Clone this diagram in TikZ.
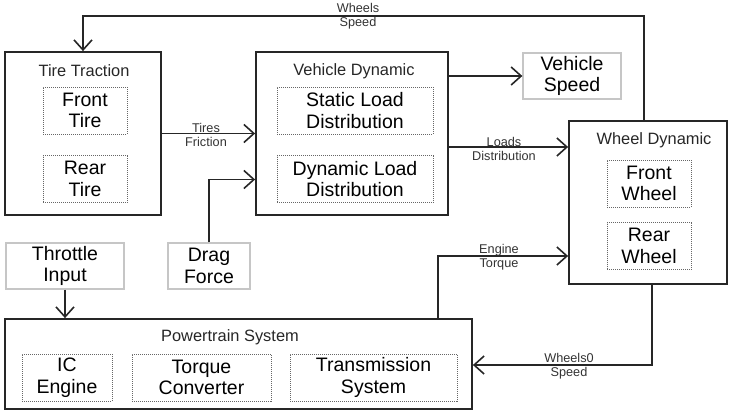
\documentclass[tikz,border=0pt]{standalone}
\usepackage{fontspec}
\setmainfont{Liberation Sans}
\usetikzlibrary{positioning,arrows.meta,calc}

\begin{document}
\begin{tikzpicture}[
  x=1pt, y=-1pt,
  blk/.style={draw=black!85, line width=1.8pt, inner sep=0pt},
  sub/.style={draw=black!60, dash pattern=on 1pt off 1pt, line width=1pt, align=center, inner sep=0pt, font=\fontsize{19.5}{21.5}\selectfont},
  src/.style={draw=gray!45, line width=1.3pt, align=center, inner sep=0pt, font=\fontsize{19.5}{21.5}\selectfont},
  ttl/.style={font=\fontsize{16.4}{19}\selectfont, inner sep=0pt, text=black!85},
  lbl/.style={font=\fontsize{12.7}{14.5}\selectfont, align=center, inner sep=0pt, text=black!80},
  ar/.style={-{Straight Barb[length=10pt,width=18pt]}, line width=1.6pt, black!85},
]
\useasboundingbox (0,0) rectangle (732,413);
% ---- tire traction ----
\node[blk, minimum width=156pt, minimum height=163pt] (tt) at (83,133.5) {};
\node[ttl] (ttt) at (84,71) {Tire Traction};
\node[sub, minimum width=84pt, minimum height=47pt] (ft) at (85,110.5) {Front\\Tire};
\node[sub, minimum width=84pt, minimum height=47pt] (rt) at (85,179) {Rear\\Tire};
% ---- vehicle dynamic ----
\node[blk, minimum width=192pt, minimum height=163pt] (vd) at (352,133.5) {};
\node[ttl] (vdt) at (354,71) {Vehicle Dynamic};
\node[sub, minimum width=156pt, minimum height=47pt] (sld) at (355,110.5) {Static Load\\Distribution};
\node[sub, minimum width=156pt, minimum height=47pt] (dld) at (355,179) {Dynamic Load\\Distribution};
\node[src, minimum width=98pt, minimum height=46pt] (vs) at (572,76) {Vehicle\\Speed};
% ---- wheel dynamic ----
\node[blk, minimum width=158pt, minimum height=163pt] (wd) at (648,202.5) {};
\node[ttl] (wdt) at (654,140) {Wheel Dynamic};
\node[sub, minimum width=84pt, minimum height=47pt] (fw) at (649,183.5) {Front\\Wheel};
\node[sub, minimum width=84pt, minimum height=47pt] (rw) at (649,246) {Rear\\Wheel};
% ---- inputs ----
\node[src, minimum width=118pt, minimum height=46pt] (ti) at (65,266) {Throttle\\Input};
\node[src, minimum width=82pt, minimum height=46pt] (df) at (209,266) {Drag\\Force};
% ---- powertrain ----
\node[blk, minimum width=467pt, minimum height=90pt] (ps) at (238.5,364) {};
\node[ttl] (pst) at (230,337) {Powertrain System};
\node[sub, minimum width=90pt, minimum height=47pt] (ice) at (67,377.5) {IC\\Engine};
\node[sub, minimum width=139pt, minimum height=47pt] (tc) at (201.5,377.5) {Torque\\Converter};
\node[sub, minimum width=167pt, minimum height=47pt] (tsys) at (373.5,377.5) {Transmission\\System};
% arrows
\draw[ar] ([xshift=-4pt]wd.north) |- (83,16) -- (tt.north);
\draw[ar] (tt.east) -- (vd.west);
\draw[ar] (df.north) |- ([yshift=-46pt]vd.west);
\draw[ar] (vs.west -| vd.east) -- (vs.west);
\draw[ar] ([yshift=-13.5pt]vd.east) -- ([yshift=-13.5pt]vd.east -| wd.west);
\draw[ar] ([xshift=199.5pt]ps.north) |- ([yshift=-53.5pt]wd.west);
\draw[ar] ([xshift=4pt]wd.south) |- ([yshift=-1pt]ps.east);
\draw[ar] (ti.south) -- (ti.south |- ps.north);
% labels
\node[lbl] (wsl) at (358,16) {Wheels\\Speed};
\node[lbl] (tfl) at (206,135) {Tires\\Friction};
\node[lbl] (ldl) at (504,149) {Loads\\Distribution};
\node[lbl] (etl) at (499,257) {Engine\\Torque};
\node[lbl] (wbl) at (569,366) {Wheels0\\Speed};
\end{tikzpicture}
\end{document}
